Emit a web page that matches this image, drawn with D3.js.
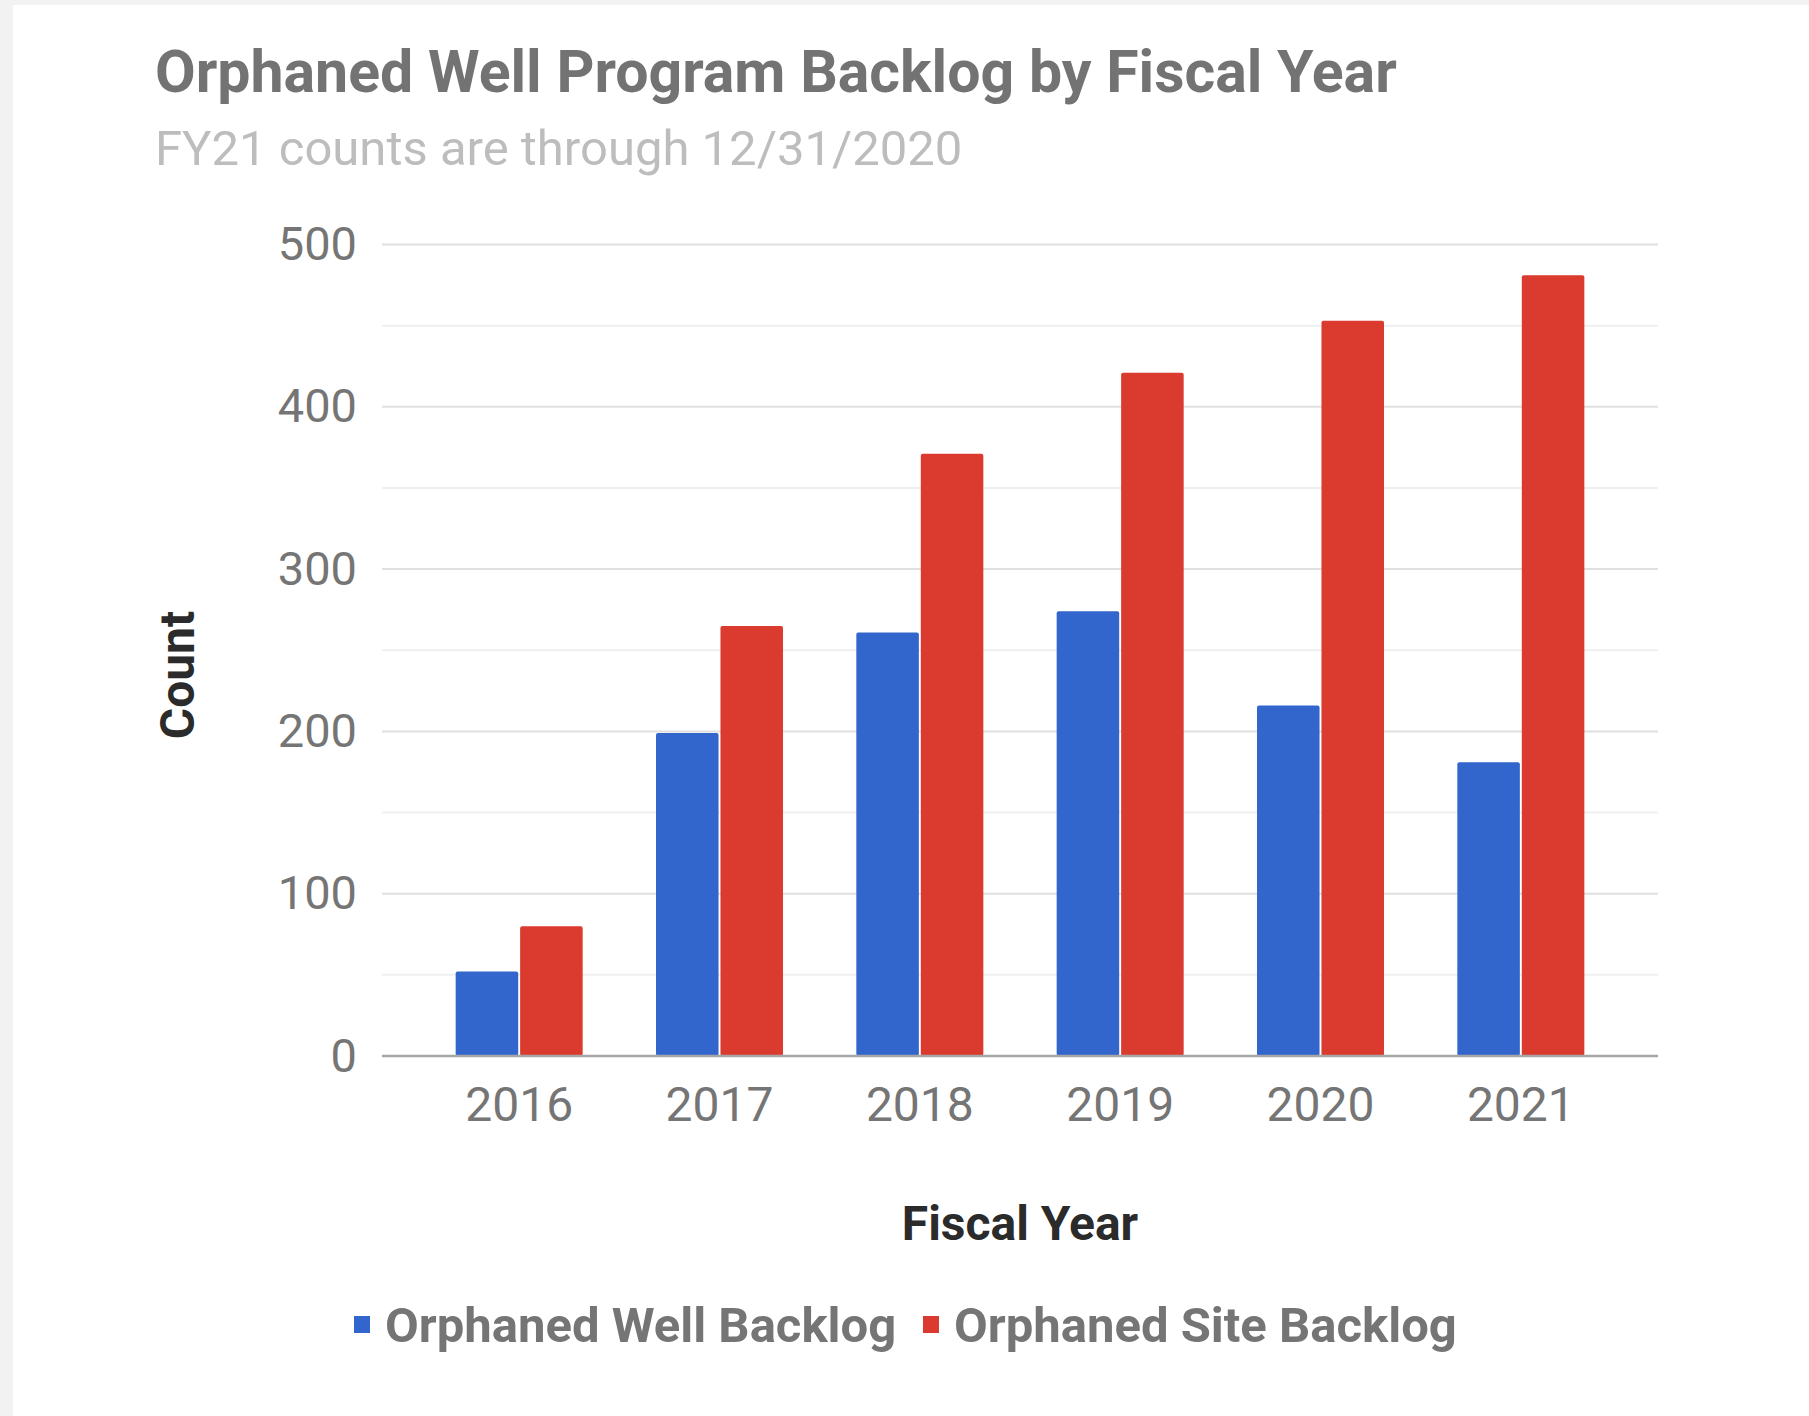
<!DOCTYPE html>
<html>
<head>
<meta charset="utf-8">
<script src="https://cdn.jsdelivr.net/npm/d3@7"></script>
<style>
  body { margin: 0; background: #f2f2f2; }
  text { font-family: Roboto, "Noto Sans", sans-serif; }
</style>
</head>
<body>
<div id="chart"></div>
<script>
const years = ["2016", "2017", "2018", "2019", "2020", "2021"];
const seriesNames = ["Orphaned Well Backlog", "Orphaned Site Backlog"];
const wellBacklog = [52, 199, 261, 274, 216, 181];
const siteBacklog = [80, 265, 371, 421, 453, 481];
const yTicks = [0, 100, 200, 300, 400, 500];
const yMinorTicks = [50, 150, 250, 350, 450];

const colors = ["#3366cc", "#db3a2e"];

const W = 1809, H = 1416;
const plot = { left: 382, right: 1658, top: 244.5, bottom: 1056 };

const svg = d3.select("#chart").append("svg")
  .attr("width", W)
  .attr("height", H);

svg.append("rect").attr("width", W).attr("height", H).attr("fill", "#f2f2f2");
svg.append("rect").attr("x", 13).attr("y", 5).attr("width", W - 13).attr("height", H - 5).attr("fill", "#fff");

// title + subtitle
svg.append("text")
  .attr("x", 155).attr("y", 92)
  .attr("fill", "#737373")
  .style("font-size", "59px").style("font-weight", "bold")
  .text("Orphaned Well Program Backlog by Fiscal Year");

svg.append("text")
  .attr("x", 155).attr("y", 165)
  .attr("fill", "#bdbdbd")
  .style("font-size", "49px")
  .text("FY21 counts are through 12/31/2020");

const y = d3.scaleLinear().domain([0, 500]).range([plot.bottom, plot.top]);

const x = d3.scaleBand()
  .domain(years)
  .range([419, 1621])
  .paddingInner(0.366)
  .paddingOuter(0.183);

const xInner = d3.scaleBand()
  .domain(seriesNames)
  .range([0, x.bandwidth()])
  .paddingInner(0.03);

// gridlines
svg.append("g").selectAll("line")
  .data(yMinorTicks)
  .join("line")
  .attr("x1", plot.left).attr("x2", plot.right)
  .attr("y1", d => y(d)).attr("y2", d => y(d))
  .attr("stroke", "#efefef").attr("stroke-width", 2);

svg.append("g").selectAll("line")
  .data(yTicks.filter(d => d > 0))
  .join("line")
  .attr("x1", plot.left).attr("x2", plot.right)
  .attr("y1", d => y(d)).attr("y2", d => y(d))
  .attr("stroke", "#e0e0e0").attr("stroke-width", 2);

// y axis labels
const yAxis = d3.axisLeft(y).tickValues(yTicks).tickSize(0).tickPadding(0);
const gy = svg.append("g")
  .attr("transform", `translate(357,0)`)
  .call(yAxis);
gy.select(".domain").remove();
gy.selectAll("text")
  .attr("fill", "#757575")
  .style("font-size", "47px")
  .style("font-family", "Roboto, sans-serif");

// bars
const rows = years.map((yr, i) => ({ year: yr, values: [wellBacklog[i], siteBacklog[i]] }));

const groups = svg.append("g").selectAll("g")
  .data(rows)
  .join("g")
  .attr("transform", d => `translate(${x(d.year)},0)`);

groups.selectAll("rect")
  .data(d => d.values.map((v, j) => ({ name: seriesNames[j], value: v, idx: j })))
  .join("rect")
  .attr("x", d => xInner(d.name))
  .attr("y", d => y(d.value))
  .attr("width", xInner.bandwidth())
  .attr("height", d => y(0) - y(d.value))
  .attr("rx", 2)
  .attr("fill", d => colors[d.idx]);

// baseline
svg.append("line")
  .attr("x1", plot.left).attr("x2", plot.right)
  .attr("y1", y(0)).attr("y2", y(0))
  .attr("stroke", "#a6a6a6").attr("stroke-width", 2.5);

// x axis labels
const xAxis = d3.axisBottom(x).tickSize(0).tickPadding(0);
const gx = svg.append("g")
  .attr("transform", `translate(0,${y(0)})`)
  .call(xAxis);
gx.select(".domain").remove();
gx.selectAll("text")
  .attr("dy", null)
  .attr("y", 65)
  .attr("fill", "#757575")
  .style("font-size", "48px")
  .style("font-family", "Roboto, sans-serif");

// axis titles
svg.append("text")
  .attr("x", 1020).attr("y", 1240)
  .attr("text-anchor", "middle")
  .attr("fill", "#2b2b2b")
  .style("font-size", "48px").style("font-weight", "bold")
  .text("Fiscal Year");

svg.append("text")
  .attr("transform", "translate(194,675) rotate(-90)")
  .attr("text-anchor", "middle")
  .attr("fill", "#2b2b2b")
  .style("font-size", "48px").style("font-weight", "bold")
  .text("Count");

// legend
const legend = svg.append("g");
const legendX = [354, 923];
seriesNames.forEach((name, i) => {
  legend.append("rect")
    .attr("x", legendX[i]).attr("y", 1316)
    .attr("width", 16).attr("height", 17)
    .attr("fill", colors[i]);
  legend.append("text")
    .attr("x", legendX[i] + 31).attr("y", 1342)
    .attr("fill", "#757575")
    .style("font-size", "49px").style("font-weight", "bold")
    .text(name);
});
</script>
</body>
</html>
